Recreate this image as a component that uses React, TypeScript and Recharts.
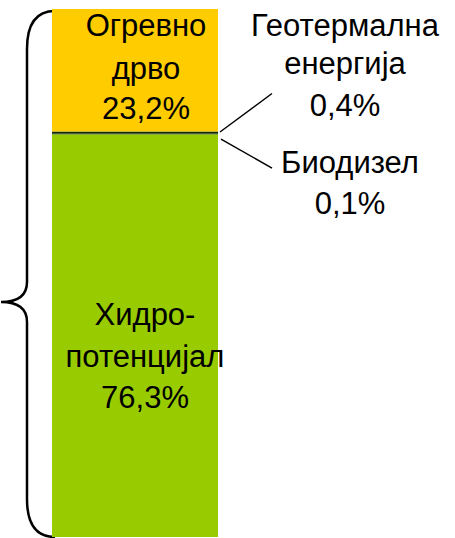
import React from 'react';
import { BarChart, Bar, XAxis, YAxis, LabelList } from 'recharts';

const categories = ['Извори'];
const hidroValues = [76.3];
const biodieselValues = [0.1];
const geoValues = [0.4];
const woodValues = [23.2];

const hidroLabel = ['Хидро-', 'потенцијал', '76,3%'];
const woodLabel = ['Огревно', 'дрво', '23,2%'];
const geoLabel = ['Геотермална', 'енергија', '0,4%'];
const bioLabel = ['Биодизел', '0,1%'];

const data = categories.map((c, i) => ({
  name: c,
  hidro: hidroValues[i],
  bio: biodieselValues[i],
  geo: geoValues[i],
  wood: woodValues[i],
}));

const FONT = 'Liberation Sans, Arial, Helvetica, sans-serif';
const FS = 31;

const box = (p: any) => {
  const v = p.viewBox ?? p;
  return { x: Number(v.x), y: Number(v.y), w: Number(v.width), h: Number(v.height) };
};

const Lines = ({ cx, baselines, lines }: { cx: number; baselines: number[]; lines: string[] }) => (
  <g>
    {lines.map((t, i) => (
      <text key={i} x={cx} y={baselines[i]} textAnchor="middle" fontSize={FS} fontFamily={FONT} fill="#000">
        {t}
      </text>
    ))}
  </g>
);

const woodContent = (p: any) => {
  const { x, y, w } = box(p);
  const cx = x + w / 2 + 11;
  return <Lines cx={cx} baselines={[y + 27, y + 70, y + 110]} lines={woodLabel} />;
};

const hidroContent = (p: any) => {
  const { x, y, w, h } = box(p);
  const cx = x + w / 2 + 10;
  const mid = y + h / 2;
  return <Lines cx={cx} baselines={[mid - 11, mid + 31, mid + 72]} lines={hidroLabel} />;
};

const geoContent = (p: any) => {
  const { x, y, w } = box(p);
  const r = x + w;
  return (
    <g>
      <line x1={r + 2} y1={y + 0.5} x2={r + 54} y2={y - 38} stroke="#000" strokeWidth={1.5} />
      <Lines cx={r + 127} baselines={[y - 95, y - 57, y - 15]} lines={geoLabel} />
    </g>
  );
};

const bioContent = (p: any) => {
  const { x, y, w } = box(p);
  const r = x + w;
  return (
    <g>
      <line x1={r + 3} y1={y + 5.5} x2={r + 54} y2={y + 34.5} stroke="#000" strokeWidth={1.5} />
      <Lines cx={r + 132} baselines={[y + 39, y + 80]} lines={bioLabel} />
    </g>
  );
};

const Brace = (p: any) => {
  const x = Number(p.x);
  const top = Number(p.y);
  const bottom = top + Number(p.height);
  const mid = (top + bottom) / 2 + 29;
  const vx = x - 25;
  const tipx = x - 51;
  const d = `M ${x + 3} ${top + 2} Q ${vx} ${top + 2} ${vx} ${top + 40} L ${vx} ${mid - 20} Q ${vx} ${mid} ${tipx} ${mid} Q ${vx} ${mid} ${vx} ${mid + 20} L ${vx} ${bottom - 38} Q ${vx} ${bottom} ${x + 3} ${bottom}`;
  return <path d={d} fill="none" stroke="#000" strokeWidth={2.5} />;
};

export default function App() {
  return (
    <div style={{ position: 'absolute', left: 0, top: 0, background: '#fff' }}>
      <BarChart
        width={455}
        height={538}
        data={data}
        margin={{ top: 9, right: 237, bottom: 1, left: 52 }}
        barCategoryGap={0}
      >
        <XAxis dataKey="name" hide />
        <YAxis type="number" domain={[0, 100]} hide />
        <Bar dataKey="hidro" stackId="a" fill="#99CC00" isAnimationActive={false} background={<Brace />}>
          <LabelList dataKey="hidro" content={hidroContent} />
        </Bar>
        <Bar dataKey="bio" stackId="a" fill="#0F2A00" isAnimationActive={false}>
          <LabelList dataKey="bio" content={bioContent} />
        </Bar>
        <Bar dataKey="geo" stackId="a" fill="#0F2A00" isAnimationActive={false}>
          <LabelList dataKey="geo" content={geoContent} />
        </Bar>
        <Bar dataKey="wood" stackId="a" fill="#FFCC00" isAnimationActive={false}>
          <LabelList dataKey="wood" content={woodContent} />
        </Bar>
      </BarChart>
    </div>
  );
}
